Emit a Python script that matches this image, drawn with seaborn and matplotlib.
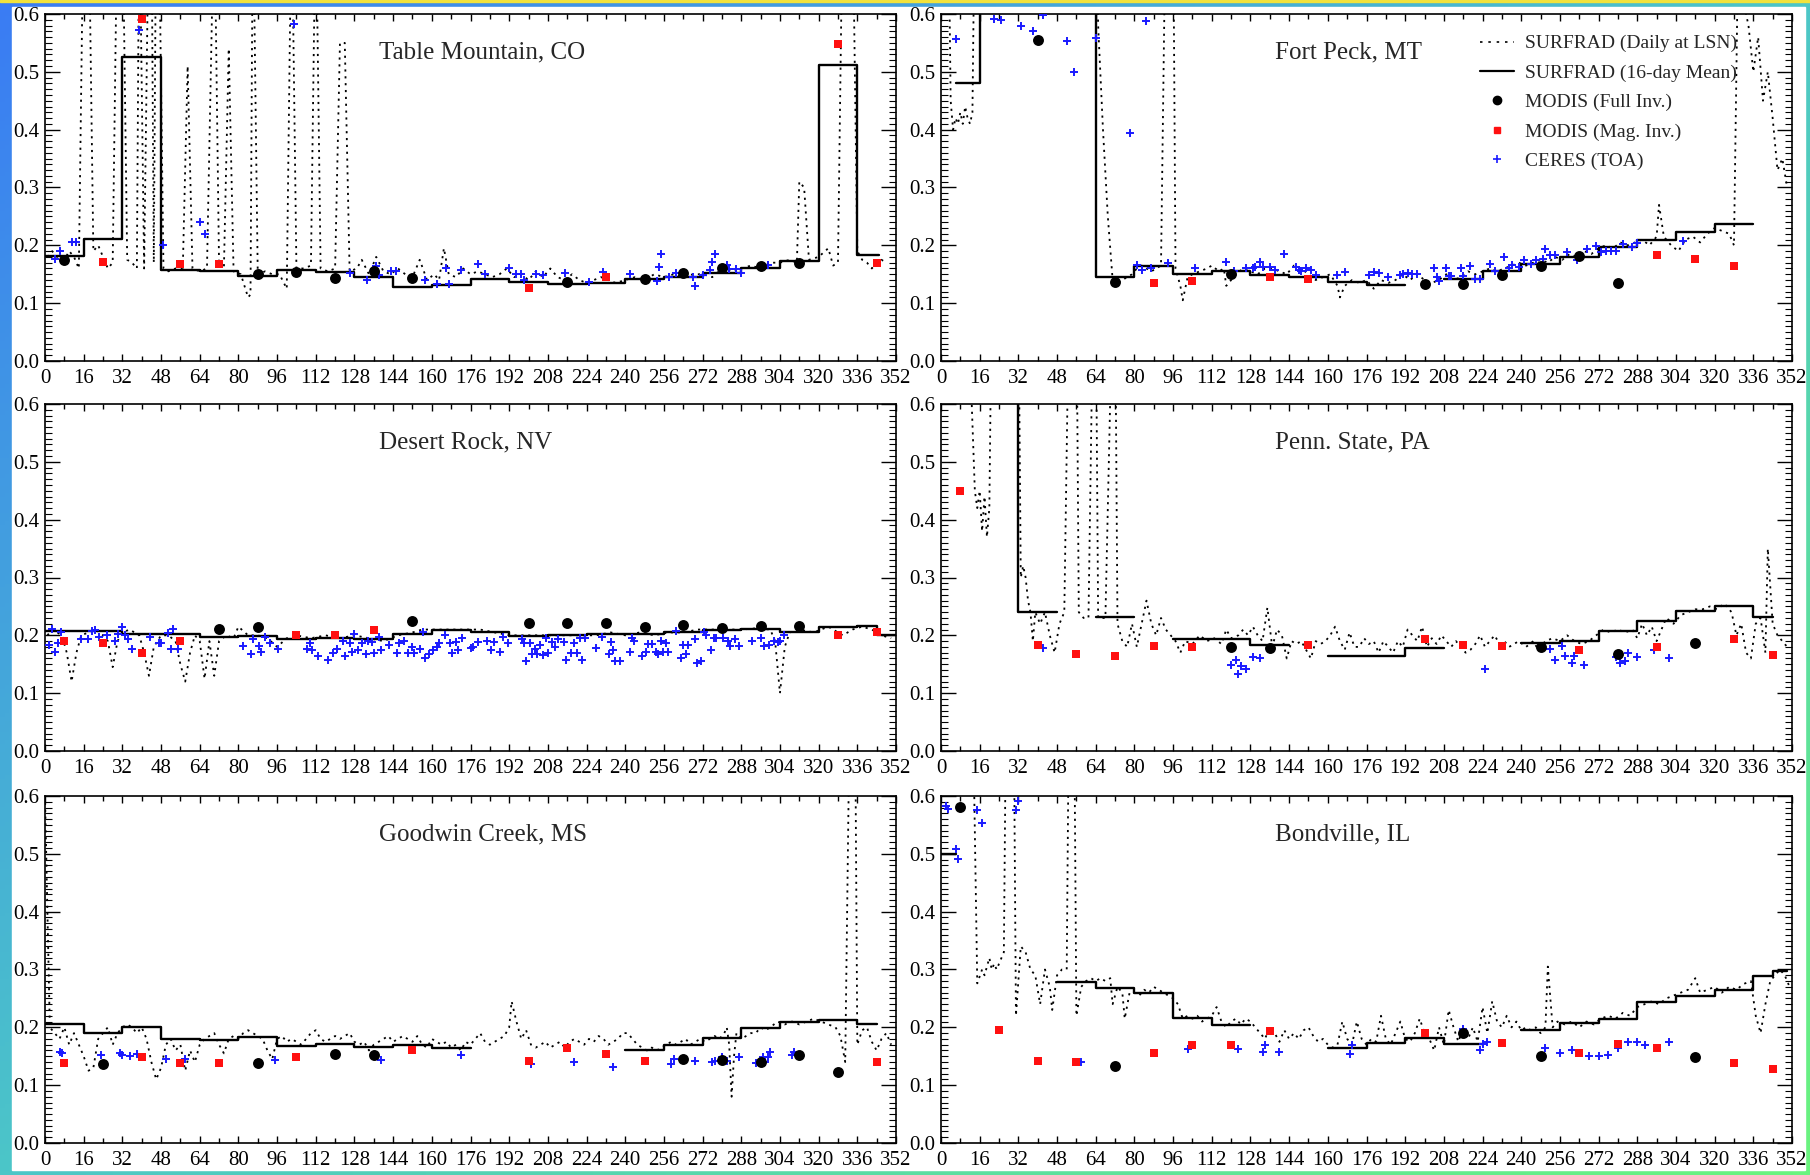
import numpy as np
import pandas as pd
import matplotlib.pyplot as plt
import seaborn as sns
from matplotlib.colors import LinearSegmentedColormap
from matplotlib.lines import Line2D
from matplotlib.patches import Rectangle
from matplotlib.ticker import MultipleLocator, FormatStrFormatter

# ---------------- data (day of year, albedo) ----------------
# Table Mountain, CO
TM_DAILY_X = [1, 3, 5, 8, 10, 12, 14, 16, 18, 20, 22, 24, 26, 28, 30, 32, 34, 36, 38, 39,
              41, 43, 44, 45, 46, 47, 49, 51, 54, 57, 59, 61, 64, 67, 70, 72, 74, 76, 78, 81,
              84, 85, 86, 88, 91, 94, 97, 100, 102, 104, 107, 110, 112, 114, 117, 120, 122, 124, 126, 129,
              131, 134, 137, 140, 143, 146, 149, 152, 155, 158, 161, 163, 165, 167, 170, 173, 176, 179, 182, 185,
              188, 191, 194, 197, 200, 203, 206, 209, 212, 215, 218, 221, 224, 227, 230, 233, 236, 240, 244, 248,
              252, 256, 260, 264, 268, 272, 276, 280, 284, 288, 292, 296, 300, 304, 308, 311, 312, 314, 316, 320,
              324, 326, 328, 330, 332, 334, 336, 338, 340, 342, 344, 346, 348]
TM_DAILY_Y = [.18, .19, .18, .175, .19, .18, .16, .8, .8, .19, .2, .18, .16, .17, .8, .8, .175, .17, .16, .8,
              .16, .8, .8, .17, .8, .8, .16, .155, .16, .16, .51, .16, .155, .16, .8, .165, .16, .54, .155, .15,
              .11, .115, .8, .15, .155, .15, .15, .125, .8, .16, .16, .165, .8, .16, .155, .16, .55, .55, .155, .16,
              .175, .15, .18, .155, .15, .16, .15, .145, .175, .14, .15, .14, .195, .15, .145, .16, .15, .155, .15, .145,
              .15, .16, .145, .15, .14, .155, .145, .16, .145, .14, .15, .14, .135, .14, .145, .14, .135, .14, .145, .14,
              .15, .145, .15, .145, .15, .15, .145, .16, .155, .16, .165, .16, .17, .17, .175, .17, .31, .3, .175, .18,
              .195, .165, .17, .8, .8, .8, .19, .175, .17, .16, .17, .175, .17]
TM_STEP_EDGES = [0, 16, 32, 48, 64, 80, 96, 112, 128, 144, 160, 176, 192, 208, 224, 240, 256, 272,
                 288, 304, 320, 336, 345]
TM_STEP_VALS = [0.181, 0.211, 0.525, 0.158, 0.156, 0.147, 0.157, 0.154, 0.146, 0.128, 0.132, 0.142,
                0.136, 0.134, 0.135, 0.142, 0.145, 0.153, 0.161, 0.173, 0.511, 0.183]
TM_FULL_X = [8, 88, 104, 120, 136, 152, 216, 248, 264, 280, 296, 312]
TM_FULL_Y = [0.174, 0.151, 0.154, 0.144, 0.155, 0.143, 0.137, 0.141, 0.152, 0.160, 0.165, 0.170]
TM_MAG_X = [24, 40, 56, 72, 200, 232, 328, 344]
TM_MAG_Y = [0.171, 0.591, 0.168, 0.168, 0.126, 0.145, 0.548, 0.169]
TM_CERES_X = [4, 6, 11, 13, 39, 49, 64, 66, 103, 126, 133, 137, 138, 143, 145, 157, 162, 166, 167, 172,
              179, 182, 192, 195, 197, 198, 203, 206, 215, 225, 231, 242, 253, 254, 255, 258, 261, 268, 269, 272,
              275, 276, 277, 282, 283, 286, 288, 299]
TM_CERES_Y = [0.177, 0.190, 0.206, 0.206, 0.572, 0.200, 0.240, 0.220, 0.582, 0.153, 0.140, 0.165, 0.148, 0.155,
              0.155, 0.140, 0.133, 0.160, 0.133, 0.158, 0.168, 0.151, 0.160, 0.150, 0.150, 0.140, 0.150, 0.148,
              0.153, 0.136, 0.154, 0.150, 0.139, 0.163, 0.185, 0.146, 0.152, 0.146, 0.130, 0.149, 0.158, 0.172,
              0.185, 0.166, 0.159, 0.159, 0.153, 0.166]

# Fort Peck, MT
FP_DAILY_X = [3, 4, 5, 6, 7, 8, 9, 10, 11, 12, 13, 14, 64, 65, 67, 69, 71, 73, 75, 77,
              79, 81, 83, 85, 87, 89, 91, 93, 96, 97, 99, 100, 102, 104, 107, 110, 112, 115, 117, 118,
              120, 122, 125, 128, 131, 134, 137, 140, 143, 146, 149, 152, 155, 158, 161, 164, 165, 167, 170, 173,
              176, 179, 182, 185, 188, 191, 194, 197, 200, 203, 206, 209, 212, 215, 218, 221, 224, 227, 230, 233,
              236, 239, 242, 245, 248, 251, 254, 257, 260, 263, 266, 269, 272, 275, 278, 281, 284, 287, 290, 293,
              296, 297, 299, 302, 305, 308, 311, 314, 317, 320, 323, 326, 328, 330, 332, 334, 336, 338, 340, 342,
              344, 346, 348, 350]
FP_DAILY_Y = [.8, .45, .40, .42, .41, .43, .41, .44, .42, .41, .43, .8, .8, .58, .4, .25, .14, .135, .14, .145,
              .15, .16, .165, .16, .155, .16, .165, .8, .8, .16, .13, .105, .145, .15, .155, .16, .165, .155, .16, .13,
              .14, .15, .16, .155, .15, .16, .16, .155, .15, .165, .16, .15, .14, .145, .15, .13, .11, .13, .14, .135,
              .14, .125, .14, .135, .14, .15, .14, .15, .14, .135, .14, .15, .14, .145, .155, .15, .155, .16, .155, .16,
              .165, .17, .165, .17, .175, .17, .18, .175, .185, .18, .19, .185, .195, .2, .195, .205, .2, .205, .21, .2,
              .215, .27, .215, .2, .19, .21, .215, .205, .22, .23, .225, .22, .2, .8, .62, .58, .5, .56, .45, .5,
              .42, .33, .35, .3]
FP_STEP_EDGES = [6, 16, 32, 48, 64, 80, 96, 112, 128, 144, 160, 176, 192, 208, 224, 240, 256, 272,
                 288, 304, 320, 336]
FP_STEP_VALS = [0.48, 0.75, 0.75, 0.75, 0.145, 0.164, 0.151, 0.155, 0.149, 0.146, 0.136, 0.132, None,
                0.141, 0.156, 0.168, 0.179, 0.197, 0.209, 0.223, 0.237]
FP_FULL_X = [40, 72, 120, 200, 216, 232, 248, 264, 280]
FP_FULL_Y = [0.555, 0.137, 0.150, 0.133, 0.133, 0.148, 0.164, 0.181, 0.135]
FP_MAG_X = [88, 104, 136, 152, 296, 312, 328]
FP_MAG_Y = [0.135, 0.139, 0.146, 0.141, 0.184, 0.177, 0.165]
FP_CERES_X = [6, 22, 25, 33, 38, 42, 52, 55, 64, 78, 81, 83, 85, 87, 94, 105, 118, 121, 126, 129,
              130, 132, 133, 136, 138, 142, 147, 148, 149, 151, 153, 155, 164, 167, 177, 179, 181, 185, 190, 191,
              193, 195, 197, 204, 205, 206, 209, 210, 211, 215, 216, 219, 221, 223, 227, 229, 233, 235, 236, 239,
              241, 244, 246, 249, 250, 252, 254, 259, 263, 267, 271, 273, 275, 277, 279, 282, 286, 288, 307]
FP_CERES_Y = [.557, .592, .589, .580, .570, .598, .553, .500, .558, .394, .166, .158, .588, .161, .170, .160,
              .172, .155, .160, .160, .163, .172, .163, .163, .157, .185, .162, .158, .155, .160, .158, .149,
              .149, .154, .148, .154, .152, .145, .149, .151, .152, .150, .151, .161, .145, .138, .161, .147,
              .147, .160, .147, .164, .141, .141, .168, .156, .180, .160, .166, .163, .174, .168, .175, .177,
              .194, .184, .184, .189, .175, .194, .198, .189, .191, .191, .191, .203, .197, .204, .207]

# Desert Rock, NV
DR_DAILY_X = [1, 3, 5, 7, 9, 11, 13, 15, 18, 21, 24, 26, 28, 30, 32, 35, 37, 39, 41, 43,
              45, 48, 51, 54, 56, 58, 60, 62, 64, 66, 68, 70, 72, 75, 78, 80, 84, 88, 92, 96,
              100, 104, 110, 116, 122, 128, 134, 140, 146, 152, 156, 162, 168, 174, 180, 186, 192, 198, 204, 210,
              216, 222, 228, 234, 240, 246, 252, 258, 264, 270, 276, 282, 288, 294, 300, 302, 304, 306, 308, 312,
              318, 324, 330, 334, 338, 342, 346, 350]
DR_DAILY_Y = [.2, .21, .205, .2, .17, .12, .17, .2, .205, .21, .2, .19, .145, .19, .205, .21, .205, .2, .17, .13,
              .18, .2, .2, .19, .15, .12, .17, .2, .19, .125, .19, .13, .19, .2, .195, .215, .2, .2, .195, .18,
              .195, .2, .195, .2, .195, .2, .195, .19, .2, .205, .21, .21, .21, .21, .21, .205, .2, .2, .2, .2,
              .2, .2, .2, .205, .2, .205, .2, .205, .205, .21, .21, .21, .21, .212, .21, .19, .1, .18, .205, .21,
              .205, .215, .2, .21, .215, .21, .2, .195]
DR_STEP_EDGES = [0, 16, 32, 48, 64, 80, 96, 112, 128, 144, 160, 176, 192, 208, 224, 240, 256, 272,
                 288, 304, 320, 336, 344, 352]
DR_STEP_VALS = [0.207, 0.208, 0.203, 0.203, 0.197, 0.198, 0.194, 0.196, 0.194, 0.203, 0.209, 0.206,
                0.199, 0.200, 0.202, 0.202, 0.206, 0.210, 0.211, 0.206, 0.214, 0.217, 0.200]
DR_FULL_X = [72, 88, 152, 200, 216, 232, 248, 264, 280, 296, 312]
DR_FULL_Y = [0.211, 0.214, 0.224, 0.222, 0.222, 0.221, 0.214, 0.218, 0.213, 0.216, 0.217]
DR_MAG_X = [8, 24, 40, 56, 104, 120, 136, 328, 344]
DR_MAG_Y = [0.190, 0.186, 0.170, 0.190, 0.201, 0.200, 0.209, 0.200, 0.205]
DR_CERES_X = [1.7, 2.9, 4.0, 5.2, 6.8, 14.7, 17.9, 19.5, 20.8, 22.3,
              25.8, 29.0, 30.3, 31.9, 33.0, 34.2, 36.1, 43.3, 47.2, 48.0,
              50.7, 52.3, 53.0, 55.2, 81.8, 85.3, 86.0, 88.4, 89.2, 91.0,
              93.2, 96.4, 108.2, 109.5, 110.6, 113.0, 117.0, 119.3, 120.9, 123.3,
              124.1, 126.0, 127.0, 128.0, 129.6, 131.2, 132.8, 133.6, 135.2, 136.0,
              138.0, 139.1, 142.3, 145.5, 146.3, 148.7, 150.2, 151.8, 152.6, 155.0,
              156.2, 157.0, 159.0, 160.5, 162.1, 163.0, 165.3, 167.7, 168.5, 170.0,
              170.8, 172.4, 176.0, 177.2, 179.2, 183.0, 184.3, 185.9, 188.3, 189.4,
              191.4, 197.3, 198.3, 199.0, 200.5, 201.3, 202.5, 203.3, 204.9, 206.1,
              207.3, 208.0, 209.7, 210.8, 212.0, 214.7, 215.4, 217.4, 218.8, 220.2,
              221.3, 222.2, 223.2, 228.1, 230.2, 233.2, 234.1, 234.9, 235.9, 238.0,
              242.0, 242.8, 243.7, 246.9, 248.7, 249.6, 251.0, 252.6, 253.7, 254.8,
              255.8, 256.7, 257.8, 261.0, 262.9, 263.7, 265.0, 266.0, 268.8, 269.8,
              271.5, 272.5, 273.6, 275.6, 276.6, 277.7, 280.4, 282.5, 283.5, 285.5,
              286.9, 292.4, 296.2, 297.2, 299.3, 301.4, 303.0, 304.1, 305.8]
DR_CERES_Y = [.183, .211, .171, .187, .206, .194, .194, .207, .209, .197,
              .200, .190, .203, .214, .200, .194, .176, .197, .186, .186,
              .204, .177, .211, .177, .181, .167, .194, .181, .171, .197,
              .186, .177, .177, .186, .175, .164, .157, .170, .177, .191,
              .164, .186, .172, .203, .174, .186, .168, .191, .189, .170,
              .197, .174, .183, .170, .187, .190, .170, .180, .170, .177,
              .206, .160, .168, .174, .180, .186, .201, .186, .170, .189,
              .174, .195, .178, .180, .189, .191, .174, .189, .171, .197,
              .186, .193, .186, .155, .186, .168, .177, .167, .184, .166,
              .195, .170, .189, .180, .193, .189, .158, .170, .187, .170,
              .195, .158, .195, .178, .197, .167, .189, .175, .155, .156,
              .172, .195, .190, .164, .172, .185, .185, .172, .168, .191,
              .171, .187, .171, .208, .161, .183, .168, .184, .193, .152,
              .155, .206, .201, .174, .195, .195, .195, .191, .181, .193,
              .181, .191, .195, .181, .184, .191, .189, .191, .200]

# Penn. State, PA
PS_DAILY_X = [11, 14, 15, 16, 17, 18, 19, 20, 21, 32, 33, 34, 35, 36, 37, 38, 39, 41, 43, 45,
              47, 49, 51, 53, 55, 56, 57, 59, 61, 63, 64, 65, 68, 71, 72, 73, 75, 77, 79, 81,
              83, 85, 87, 89, 91, 93, 95, 97, 99, 101, 104, 107, 110, 113, 116, 118, 120, 123, 125, 127,
              129, 131, 133, 135, 137, 139, 141, 143, 145, 147, 149, 151, 153, 155, 157, 159, 161, 163, 165, 167,
              169, 171, 173, 175, 177, 179, 181, 183, 185, 187, 189, 191, 193, 195, 197, 199, 201, 203, 205, 207,
              209, 211, 213, 215, 217, 219, 221, 223, 225, 227, 229, 231, 233, 235, 237, 239, 242, 245, 247, 250,
              253, 256, 259, 262, 265, 268, 271, 274, 277, 280, 283, 286, 288, 290, 292, 294, 296, 298, 300, 303,
              306, 309, 312, 315, 318, 321, 324, 327, 329, 331, 333, 335, 337, 339, 341, 342, 344, 346, 348, 350]
PS_DAILY_Y = [.8, .45, .42, .45, .38, .44, .37, .42, .8, .8, .3, .32, .3, .26, .24, .19, .24, .22, .24, .2,
              .17, .22, .24, .8, .8, .8, .24, .23, .23, .8, .8, .23, .23, .8, .8, .22, .19, .18, .22, .18,
              .22, .26, .22, .2, .23, .21, .2, .19, .17, .19, .185, .2, .19, .195, .185, .21, .195, .2, .21, .2,
              .215, .2, .19, .248, .18, .21, .2, .16, .19, .185, .19, .175, .16, .19, .185, .19, .2, .215, .19, .175,
              .205, .18, .18, .195, .185, .19, .17, .19, .18, .17, .19, .18, .21, .2, .19, .215, .18, .195, .185, .2,
              .19, .18, .19, .18, .17, .175, .185, .2, .18, .19, .2, .185, .19, .18, .185, .19, .18, .19, .175, .19,
              .195, .19, .2, .19, .185, .19, .2, .21, .205, .21, .205, .21, .195, .22, .2, .215, .19, .21, .23, .22,
              .235, .24, .245, .245, .25, .245, .255, .24, .2, .22, .17, .16, .22, .23, .17, .35, .22, .2, .19, .18]
PS_STEP_EDGES = [16, 32, 48, 64, 80, 96, 112, 128, 144, 160, 176, 192, 208, 224, 240, 256, 272,
                 288, 304, 320, 336, 344]
PS_STEP_VALS = [0.8, 0.241, None, 0.231, None, 0.193, 0.193, 0.183, None, 0.165, 0.165, 0.178,
                None, None, 0.186, 0.190, 0.2075, 0.225, 0.242, 0.251, 0.232]
PS_FULL_X = [120, 136, 248, 280, 312]
PS_FULL_Y = [0.179, 0.178, 0.180, 0.168, 0.187]
PS_MAG_X = [8, 40, 56, 72, 88, 104, 152, 200, 216, 232, 264, 296, 328, 344]
PS_MAG_Y = [0.449, 0.184, 0.167, 0.164, 0.181, 0.179, 0.183, 0.193, 0.184, 0.181, 0.174, 0.180, 0.193, 0.166]
PS_CERES_X = [42, 120, 122, 123, 124, 126, 129, 132, 225, 252, 254, 257, 258, 261, 262, 266, 279, 281,
              283, 284, 288, 295, 301]
PS_CERES_Y = [0.178, 0.148, 0.157, 0.133, 0.147, 0.141, 0.163, 0.161, 0.141, 0.177, 0.157, 0.181, 0.164,
              0.153, 0.165, 0.149, 0.163, 0.153, 0.155, 0.170, 0.163, 0.175, 0.160]

# Goodwin Creek, MS
GC_DAILY_X = [0, 2, 4, 6, 8, 10, 12, 14, 16, 18, 20, 22, 24, 26, 28, 30, 32, 34, 36, 38,
              40, 42, 44, 46, 48, 50, 52, 54, 56, 58, 60, 62, 64, 66, 68, 70, 72, 74, 76, 78,
              80, 82, 84, 86, 88, 90, 92, 94, 96, 98, 100, 102, 104, 106, 108, 110, 112, 114, 116, 118,
              120, 122, 124, 126, 128, 130, 132, 134, 136, 138, 140, 142, 144, 146, 148, 150, 152, 154, 156, 158,
              160, 162, 164, 166, 168, 170, 172, 174, 176, 178, 180, 182, 184, 186, 188, 190, 192, 193, 195, 197,
              199, 201, 203, 205, 207, 209, 211, 213, 215, 217, 219, 221, 223, 225, 227, 229, 231, 233, 235, 237,
              239, 241, 243, 245, 247, 249, 251, 253, 255, 257, 259, 261, 263, 265, 267, 269, 271, 273, 275, 277,
              279, 281, 282, 283, 284, 285, 286, 288, 290, 292, 294, 296, 298, 300, 303, 306, 309, 312, 315, 318,
              321, 324, 327, 329, 331, 333, 335, 336, 338, 340, 342, 344, 346, 348, 350]
GC_DAILY_Y = [.6, .2, .19, .18, .2, .17, .19, .17, .15, .125, .13, .18, .19, .2, .17, .19, .2, .205, .2, .19,
              .2, .18, .14, .11, .13, .17, .18, .16, .17, .125, .16, .14, .17, .18, .185, .19, .17, .155, .18, .185,
              .18, .19, .195, .19, .185, .18, .16, .145, .18, .185, .175, .18, .175, .17, .18, .19, .195, .18, .175, .18,
              .185, .18, .185, .19, .175, .17, .175, .16, .17, .175, .18, .185, .175, .18, .185, .18, .175, .185, .17, .165,
              .18, .175, .17, .175, .165, .17, .16, .175, .17, .18, .19, .175, .17, .175, .18, .185, .2, .245, .21, .18,
              .195, .17, .165, .17, .175, .165, .17, .175, .165, .175, .18, .175, .17, .18, .175, .185, .18, .17, .175, .18,
              .19, .19, .18, .17, .165, .16, .165, .16, .165, .17, .175, .17, .175, .18, .17, .175, .18, .175, .18, .185,
              .18, .19, .2, .17, .08, .15, .19, .18, .185, .19, .19, .2, .195, .2, .21, .205, .21, .205, .21, .215,
              .21, .205, .2, .185, .14, .8, .8, .17, .195, .2, .175, .16, .18, .19, .17]
GC_STEP_EDGES = [0, 16, 32, 48, 64, 80, 96, 112, 128, 144, 160, 176, 240, 256, 272, 288, 304, 320, 336, 344]
GC_STEP_VALS = [0.205, 0.191, 0.201, 0.180, 0.178, 0.184, 0.167, 0.172, 0.1655, 0.1695, 0.164, None,
                0.160, 0.1695, 0.181, 0.198, 0.209, 0.213, 0.206]
GC_FULL_X = [24, 88, 120, 136, 264, 280, 296, 312, 328]
GC_FULL_Y = [0.136, 0.138, 0.154, 0.152, 0.145, 0.144, 0.140, 0.153, 0.123]
GC_MAG_X = [8, 40, 56, 72, 104, 152, 200, 216, 232, 248, 344]
GC_MAG_Y = [0.139, 0.148, 0.138, 0.139, 0.148, 0.160, 0.142, 0.164, 0.154, 0.141, 0.140]
GC_CERES_X = [6, 7, 23, 31, 32, 35, 38, 50, 58, 95, 139, 172, 201, 219, 235, 259, 260, 269, 276, 277,
              280, 282, 287, 294, 297, 298, 299, 300, 309, 310]
GC_CERES_Y = [0.157, 0.155, 0.152, 0.155, 0.152, 0.151, 0.154, 0.145, 0.146, 0.143, 0.144, 0.152, 0.136,
              0.140, 0.132, 0.136, 0.145, 0.141, 0.140, 0.142, 0.148, 0.141, 0.148, 0.138, 0.149, 0.140,
              0.148, 0.158, 0.153, 0.158]

# Bondville, IL
BV_DAILY_X = [13, 15, 17, 18, 20, 21, 22, 23, 25, 26, 27, 30, 31, 33, 35, 37, 39, 41, 43, 45,
              46, 48, 50, 52, 53, 55, 56, 58, 60, 62, 64, 66, 68, 70, 71, 73, 75, 76, 78, 80,
              82, 84, 86, 88, 90, 92, 94, 96, 98, 100, 102, 104, 106, 108, 110, 112, 114, 116, 118, 120,
              122, 124, 126, 128, 130, 132, 134, 136, 138, 140, 142, 144, 146, 148, 150, 152, 154, 156, 158, 160,
              162, 164, 166, 168, 170, 172, 174, 176, 178, 180, 182, 184, 186, 188, 190, 192, 194, 196, 198, 200,
              202, 204, 206, 208, 210, 212, 214, 216, 218, 220, 222, 224, 226, 228, 230, 232, 234, 236, 238, 240,
              242, 244, 246, 248, 250, 251, 253, 255, 258, 261, 264, 267, 270, 273, 276, 279, 282, 285, 288, 291,
              294, 297, 300, 303, 306, 309, 312, 314, 317, 320, 323, 326, 329, 332, 335, 337, 339, 341, 343, 345,
              347, 349, 351]
BV_DAILY_Y = [.8, .276, .3, .29, .32, .3, .31, .3, .32, .33, .8, .8, .22, .34, .33, .3, .29, .24, .3, .27,
              .23, .29, .3, .3, .8, .8, .22, .27, .28, .285, .28, .285, .28, .285, .24, .27, .26, .215, .26, .26,
              .255, .265, .26, .27, .265, .26, .255, .25, .24, .215, .22, .215, .22, .21, .215, .22, .235, .21, .2, .21,
              .215, .205, .215, .21, .2, .19, .18, .2, .19, .175, .195, .18, .19, .18, .195, .2, .185, .175, .18, .17,
              .165, .17, .21, .18, .17, .21, .18, .17, .18, .175, .22, .18, .17, .19, .21, .18, .175, .19, .215, .19,
              .18, .16, .2, .17, .23, .2, .175, .2, .18, .2, .175, .235, .19, .245, .21, .2, .22, .2, .21, .195,
              .2, .195, .2, .19, .2, .305, .2, .21, .205, .21, .2, .21, .205, .215, .22, .215, .225, .22, .235, .24,
              .245, .24, .25, .255, .26, .265, .285, .26, .265, .27, .26, .27, .265, .275, .28, .22, .19, .24, .28, .29,
              .3, .29, .27]
BV_STEP_EDGES = [0, 6, 48, 64, 80, 96, 112, 128, 160, 176, 192, 208, 224, 240, 256, 272, 288, 304,
                 320, 336, 344, 350]
BV_STEP_VALS = [0.5, None, 0.279, 0.268, 0.260, 0.2155, 0.2035, None, 0.165, 0.1725, 0.182, 0.171,
                None, 0.195, 0.207, 0.215, 0.243, 0.255, 0.265, 0.288, 0.298]
BV_FULL_X = [8, 72, 216, 248, 312]
BV_FULL_Y = [0.581, 0.133, 0.190, 0.150, 0.148]
BV_MAG_X = [24, 40, 56, 88, 104, 120, 136, 200, 232, 264, 280, 296, 328, 344]
BV_MAG_Y = [0.196, 0.142, 0.140, 0.155, 0.170, 0.169, 0.194, 0.190, 0.173, 0.155, 0.171, 0.165, 0.138, 0.128]
BV_CERES_X = [2, 3, 6, 7, 15, 17, 31, 32, 58, 102, 123, 133, 134, 140, 169, 170, 216, 223, 224, 226,
              250, 256, 261, 268, 272, 276, 280, 284, 288, 291, 301]
BV_CERES_Y = [0.582, 0.578, 0.509, 0.491, 0.576, 0.553, 0.576, 0.592, 0.140, 0.162, 0.162, 0.158, 0.169,
              0.157, 0.154, 0.169, 0.197, 0.161, 0.171, 0.175, 0.165, 0.155, 0.160, 0.150, 0.150, 0.152,
              0.165, 0.175, 0.175, 0.170, 0.175]

SITES = ["Table Mountain, CO", "Fort Peck, MT", "Desert Rock, NV",
         "Penn. State, PA", "Goodwin Creek, MS", "Bondville, IL"]

LEGEND_LABELS = ["SURFRAD (Daily at LSN)", "SURFRAD (16-day Mean)", "MODIS (Full Inv.)",
                 "MODIS (Mag. Inv.)", "CERES (TOA)"]

DOTTED = (0, (1.2, 2.6))
BLUE = "#1a1aff"
RED = "#ff1010"


def step_frame(edges, vals):
    # turn 16-day periods into step segments, breaking at missing periods
    rows = []
    seg = 0
    i = 0
    while i < len(vals):
        if vals[i] is None:
            i += 1
            continue
        j = i
        while j + 1 < len(vals) and vals[j + 1] is not None:
            j += 1
        xs = edges[i:j + 2]
        ys = vals[i:j + 1] + [vals[j]]
        rows += [(x, y, seg) for x, y in zip(xs, ys)]
        seg += 1
        i = j + 1
    return pd.DataFrame(rows, columns=["day", "albedo", "seg"])


def draw_panel(ax, name, daily_x, daily_y, edges, vals, full_x, full_y, mag_x, mag_y, ceres_x, ceres_y):
    daily = pd.DataFrame({"day": daily_x, "albedo": daily_y})
    sns.lineplot(data=daily, x="day", y="albedo", estimator=None, sort=False, color="black",
                 linewidth=1.3, linestyle=DOTTED, ax=ax, zorder=2)
    sns.lineplot(data=step_frame(edges, vals), x="day", y="albedo", units="seg", estimator=None,
                 sort=False, color="black", linewidth=1.7, drawstyle="steps-post", ax=ax, zorder=3)
    sns.scatterplot(x=ceres_x, y=ceres_y, marker="+", s=32, color=BLUE, linewidth=1.4, ax=ax, zorder=4)
    sns.scatterplot(x=mag_x, y=mag_y, marker="s", s=38, color=RED, linewidth=0, ax=ax, zorder=5)
    sns.scatterplot(x=full_x, y=full_y, marker="o", s=62, color="black", linewidth=0, ax=ax, zorder=6)

    ax.set_xlim(0, 352)
    ax.set_ylim(0, 0.6)
    ax.set_xlabel("")
    ax.set_ylabel("")
    ax.xaxis.set_major_locator(MultipleLocator(16))
    ax.xaxis.set_minor_locator(MultipleLocator(8))
    ax.yaxis.set_major_locator(MultipleLocator(0.1))
    ax.yaxis.set_minor_locator(MultipleLocator(0.01))
    ax.yaxis.set_major_formatter(FormatStrFormatter("%.1f"))
    ax.tick_params(which="both", direction="in", top=True, right=True, colors="black", labelsize=15)
    ax.tick_params(axis="x", which="major", length=5, width=1.0, pad=6)
    ax.tick_params(axis="x", which="minor", length=3.5, width=1.0)
    ax.tick_params(axis="y", which="major", length=11, width=1.0, pad=4)
    ax.tick_params(axis="y", which="minor", length=5, width=0.8)
    for sp in ax.spines.values():
        sp.set_linewidth(1.2)
        sp.set_color("black")
    ax.text(0.393, 0.89, name, transform=ax.transAxes, fontsize=18, ha="left", va="center")


def main():
    sns.set_theme(style="ticks")
    plt.rcParams["font.family"] = ["Liberation Serif", "DejaVu Serif"]

    W, H = 1810, 1175
    fig = plt.figure(figsize=(W / 100, H / 100), dpi=100)

    # gradient frame around the white page
    border_cmap = LinearSegmentedColormap.from_list("frame", ["#3a7cf4", "#4cc6c8", "#6af47e"])
    bg = fig.add_axes([0, 0, 1, 1], zorder=-10)
    gx, gy = np.meshgrid(np.linspace(0, 1, 400), np.linspace(0, 1, 300))
    bg.imshow((gx + gy) / 2, cmap=border_cmap, extent=[0, 1, 0, 1], origin="upper",
              aspect="auto", vmin=0, vmax=1)
    bg.add_patch(Rectangle((12 / W, 5 / H), 1 - 17 / W, 1 - 12 / H, color="white"))
    bg.add_patch(Rectangle((0, 1 - 2 / H), 1, 2 / H, color="#f2e23c"))
    bg.set_xlim(0, 1)
    bg.set_ylim(0, 1)
    bg.axis("off")

    col_x = [45 / W, 941 / W]
    width = 851 / W
    row_bottom_px = [361, 751, 1143]
    height = 347 / H

    panels = [
        (TM_DAILY_X, TM_DAILY_Y, TM_STEP_EDGES, TM_STEP_VALS, TM_FULL_X, TM_FULL_Y, TM_MAG_X, TM_MAG_Y, TM_CERES_X, TM_CERES_Y),
        (FP_DAILY_X, FP_DAILY_Y, FP_STEP_EDGES, FP_STEP_VALS, FP_FULL_X, FP_FULL_Y, FP_MAG_X, FP_MAG_Y, FP_CERES_X, FP_CERES_Y),
        (DR_DAILY_X, DR_DAILY_Y, DR_STEP_EDGES, DR_STEP_VALS, DR_FULL_X, DR_FULL_Y, DR_MAG_X, DR_MAG_Y, DR_CERES_X, DR_CERES_Y),
        (PS_DAILY_X, PS_DAILY_Y, PS_STEP_EDGES, PS_STEP_VALS, PS_FULL_X, PS_FULL_Y, PS_MAG_X, PS_MAG_Y, PS_CERES_X, PS_CERES_Y),
        (GC_DAILY_X, GC_DAILY_Y, GC_STEP_EDGES, GC_STEP_VALS, GC_FULL_X, GC_FULL_Y, GC_MAG_X, GC_MAG_Y, GC_CERES_X, GC_CERES_Y),
        (BV_DAILY_X, BV_DAILY_Y, BV_STEP_EDGES, BV_STEP_VALS, BV_FULL_X, BV_FULL_Y, BV_MAG_X, BV_MAG_Y, BV_CERES_X, BV_CERES_Y),
    ]

    axes = []
    for k, (name, data) in enumerate(zip(SITES, panels)):
        r, c = divmod(k, 2)
        ax = fig.add_axes([col_x[c], (H - row_bottom_px[r]) / H, width, height])
        ax.set_facecolor("white")
        draw_panel(ax, name, *data)
        axes.append(ax)

    handles = [
        Line2D([], [], color="black", linewidth=1.2, linestyle=(0, (1.5, 3.5))),
        Line2D([], [], color="black", linewidth=1.6),
        Line2D([], [], color="black", marker="o", linestyle="none", markersize=6),
        Line2D([], [], color=RED, marker="s", linestyle="none", markersize=5),
        Line2D([], [], color=BLUE, marker="+", linestyle="none", markersize=6, markeredgewidth=1.2),
    ]
    axes[1].legend(handles, LEGEND_LABELS, loc="upper left", bbox_to_anchor=(0.633, 0.94),
                   frameon=False, fontsize=14, handlelength=1.75, handletextpad=0.6,
                   labelspacing=0.6, borderpad=0, borderaxespad=0)

    fig.savefig("out.png", dpi=100)


if __name__ == "__main__":
    main()
